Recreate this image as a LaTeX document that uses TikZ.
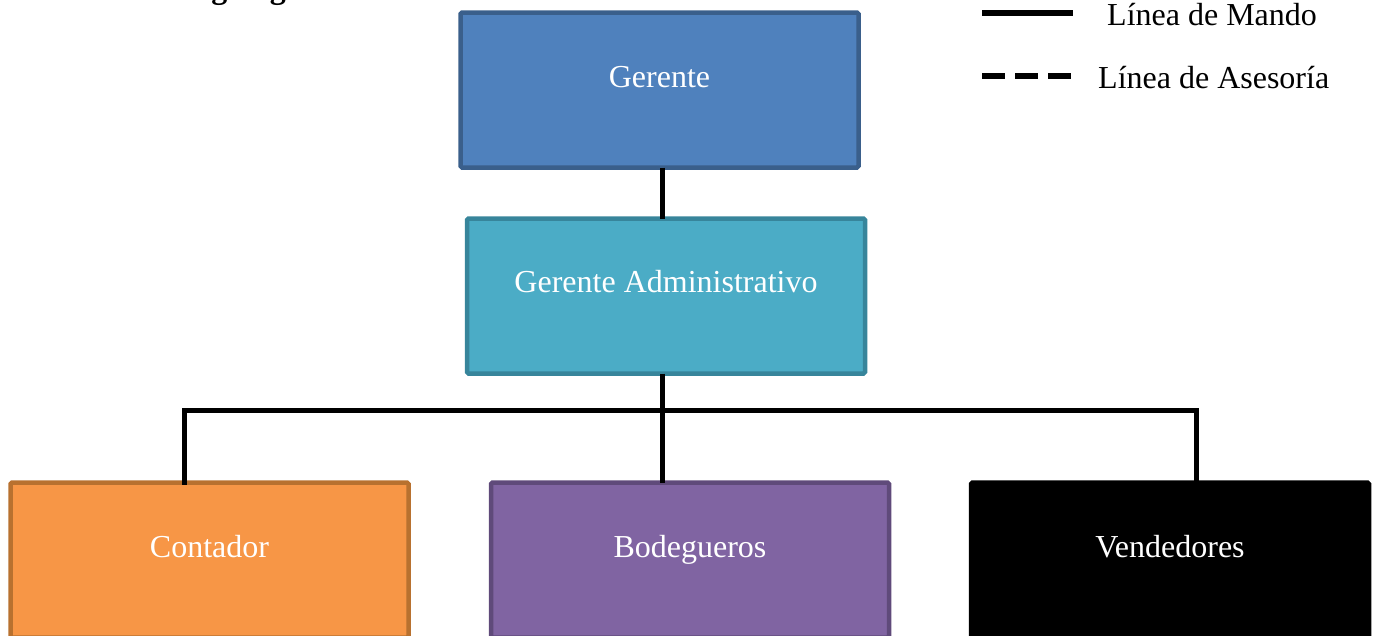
\documentclass[tikz,border=0pt]{standalone}
\usepackage{fontspec}
\setmainfont{Liberation Serif}
\usetikzlibrary{calc}
\definecolor{gerFill}{HTML}{4F81BD}
\definecolor{gerLine}{HTML}{3A5F8B}
\definecolor{admFill}{HTML}{4BACC6}
\definecolor{admLine}{HTML}{37859B}
\definecolor{conFill}{HTML}{F79646}
\definecolor{conLine}{HTML}{B8712F}
\definecolor{bodFill}{HTML}{8064A2}
\definecolor{bodLine}{HTML}{5F4A7A}
\tikzset{
  unitbox/.style={draw, rectangle, rounded corners=1.5pt, line width=4.5pt,
    minimum width=398pt, minimum height=155pt, inner sep=0pt, outer sep=0pt},
  boxtext/.style={anchor=base, text=white, inner sep=0pt,
    font=\fontsize{32}{38}\selectfont},
  conn/.style={line width=5pt, black, line cap=rect},
  legline/.style={line width=6pt, black},
  legtext/.style={anchor=base west, inner sep=0pt,
    font=\fontsize{32}{38}\selectfont},
}
\begin{document}
\begin{tikzpicture}[x=1pt, y=-1pt]
  \useasboundingbox (0,0) rectangle (1375,635);
  \clip (0,0) rectangle (1375,635);

  % heading, mostly above the page edge
  \node[anchor=base west, inner sep=0pt, font=\fontsize{32}{38}\selectfont\bfseries]
    (title) at (172,-2) {Organigrama};

  % boxes
  \node[unitbox, fill=gerFill, draw=gerLine] (ger) at (659.5,90) {};
  \node[unitbox, fill=admFill, draw=admLine] (adm) at (666,296) {};
  \node[unitbox, fill=conFill, draw=conLine] (con) at (209.5,560) {};
  \node[unitbox, fill=bodFill, draw=bodLine] (bod) at (690,560) {};
  \node[unitbox, fill=black, draw=black] (ven) at (1170,560) {};

  % box captions
  \node[boxtext] (gerT) at (659.5,87) {Gerente};
  \node[boxtext] (admT) at (666,292) {Gerente Administrativo};
  \node[boxtext] (conT) at (209.5,557) {Contador};
  \node[boxtext] (bodT) at (690,557) {Bodegueros};
  \node[boxtext] (venT) at (1170,557) {Vendedores};

  % chain of command
  \coordinate (busL) at (184.5,410);
  \coordinate (busM) at (662.5,410);
  \coordinate (busR) at (1196,410);
  \draw[conn, line cap=butt] (ger.south -| busM) -- (adm.north -| busM);
  \draw[conn, line cap=butt] (adm.south -| busM) -- (busM);
  \draw[conn] (busL |- con.north) -- (busL) -- (busR) -- (busR |- ven.north);
  \draw[conn, line cap=butt] (busM) -- (busM |- bod.north);

  % legend
  \coordinate (l1a) at (982,13);
  \coordinate (l1b) at (1073,13);
  \coordinate (l2a) at (982,76);
  \coordinate (l2b) at (1073,76);
  \draw[legline] (l1a) -- (l1b);
  \draw[legline, dash pattern=on 23pt off 10pt] (l2a) -- (l2b);
  \node[legtext] (legMando) at (1107,25) {Línea de Mando};
  \node[legtext] (legAses) at (1098,88) {Línea de Asesoría};
\end{tikzpicture}
\end{document}
